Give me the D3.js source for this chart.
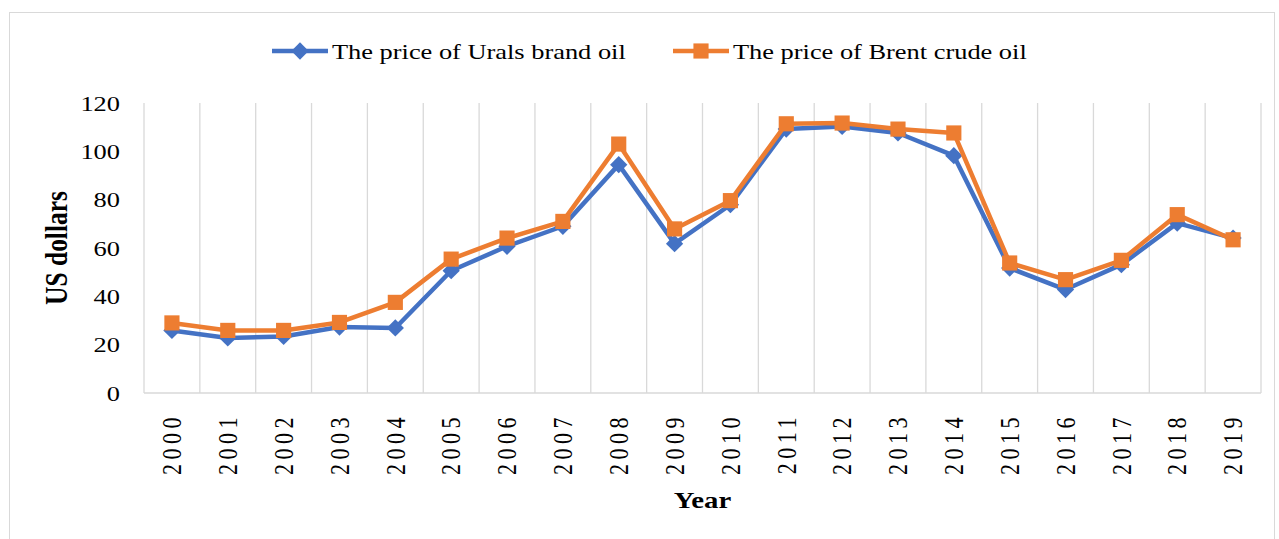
<!DOCTYPE html>
<html>
<head>
<meta charset="utf-8">
<script src="https://cdn.jsdelivr.net/npm/d3@7"></script>
<style>
  body { margin: 0; background: #fff; }
  svg { display: block; font-family: "Liberation Serif", "Times New Roman", serif; }
</style>
</head>
<body>
<script>
// data
const years = ["2000","2001","2002","2003","2004","2005","2006","2007","2008","2009",
  "2010","2011","2012","2013","2014","2015","2016","2017","2018","2019"];
const urals = [25.9, 22.8, 23.4, 27.3, 26.9, 50.6, 60.7, 69.0, 94.5, 61.8,
  77.9, 109.2, 110.3, 107.6, 98.2, 51.7, 42.8, 53.1, 70.3, 64.1];
const brent = [29.0, 25.9, 25.9, 29.2, 37.5, 55.4, 64.1, 71.0, 103.0, 67.9,
  79.6, 111.4, 111.7, 109.2, 107.6, 53.8, 46.9, 54.9, 73.8, 63.4];
const yTicks = [0, 20, 40, 60, 80, 100, 120];
const seriesNames = ["The price of Urals brand oil", "The price of Brent crude oil"];
// ----------

const w = 1279;
const h = 539;
const p = { t: 103, r: 18, b: 146, l: 144 };
const blue = "#4472C4";
const orange = "#ED7D31";
const gridCol = "#d9d9d9";
const sx = 1.2; // text is a bit wider than tall in the original
// ----------

const svg = d3.select("body").append("svg").attr("width", w).attr("height", h);

// outer chart border
svg.append("rect")
  .attr("x", 9.5).attr("y", 12.5)
  .attr("width", 1265).attr("height", 560)
  .attr("fill", "none").attr("stroke", gridCol).attr("stroke-width", 1);

// scales
const x = d3.scaleBand().domain(years).range([p.l, w - p.r]);
const y = d3.scaleLinear().domain([0, 120]).range([h - p.b, p.t]);
const cx = (d) => x(d) + x.bandwidth() / 2;

// vertical gridlines at category borders
const borders = years.map((d) => x(d)).concat([x.range()[1]]);
svg.append("g")
  .selectAll("line")
  .data(borders)
  .enter()
  .append("line")
  .attr("x1", (d) => d).attr("x2", (d) => d)
  .attr("y1", y(120)).attr("y2", y(0))
  .attr("stroke", gridCol).attr("stroke-width", 1.3);

// baseline
svg.append("line")
  .attr("x1", x.range()[0]).attr("x2", x.range()[1])
  .attr("y1", y(0)).attr("y2", y(0))
  .attr("stroke", gridCol).attr("stroke-width", 1.5);

// y axis labels
svg.append("g")
  .selectAll("text")
  .data(yTicks)
  .enter()
  .append("text")
  .text((d) => d)
  .attr("transform", (d) => `translate(120, ${y(d)}) scale(${sx}, 1)`)
  .attr("dy", "0.35em")
  .attr("text-anchor", "end")
  .attr("font-size", 22)
  .attr("fill", "#000");

// x axis labels (rotated)
svg.append("g")
  .selectAll("text")
  .data(years)
  .enter()
  .append("text")
  .text((d) => d)
  .attr("transform", (d) => `translate(${cx(d)}, ${y(0) + 20}) scale(${sx}, 1) rotate(-90)`)
  .attr("dy", "0.35em")
  .attr("text-anchor", "end")
  .attr("font-size", 22)
  .attr("letter-spacing", 4.5)
  .attr("fill", "#000");

// axis titles
svg.append("text")
  .text("Year")
  .attr("transform", `translate(${(x.range()[0] + x.range()[1]) / 2}, 508) scale(${sx}, 1)`)
  .attr("text-anchor", "middle")
  .attr("font-size", 24)
  .attr("font-weight", "bold");

svg.append("text")
  .text("US dollars")
  .attr("transform", `translate(67, ${y(60)}) scale(${sx}, 1) rotate(-90)`)
  .attr("text-anchor", "middle")
  .attr("font-size", 25.5)
  .attr("font-weight", "bold");
// ----------

// lines
const lineGen = (vals) => d3.line()
  .x((d, i) => cx(years[i]))
  .y((d) => y(d))(vals);

const diamond = d3.symbol().type(d3.symbolDiamond2).size(190);
const square = d3.symbol().type(d3.symbolSquare).size(230);

const drawSeries = (vals, col, sym) => {
  const g = svg.append("g");
  g.append("path")
    .attr("d", lineGen(vals))
    .attr("fill", "none")
    .attr("stroke", col)
    .attr("stroke-width", 4.5)
    .attr("stroke-linejoin", "round");
  g.selectAll("path.m")
    .data(vals)
    .enter()
    .append("path")
    .attr("class", "m")
    .attr("d", sym)
    .attr("transform", (d, i) => `translate(${cx(years[i])}, ${y(d)})`)
    .attr("fill", col);
};

drawSeries(urals, blue, diamond);
drawSeries(brent, orange, square);
// ----------

// legend
const legendItems = [
  { name: seriesNames[0], col: blue, sym: diamond, x: 272 },
  { name: seriesNames[1], col: orange, sym: square, x: 673 },
];
const legend = svg.append("g");
legendItems.forEach((it) => {
  const lg = legend.append("g").attr("transform", `translate(${it.x}, 51)`);
  lg.append("line")
    .attr("x1", 0).attr("x2", 56)
    .attr("stroke", it.col).attr("stroke-width", 4.5);
  lg.append("path").attr("d", it.sym).attr("transform", "translate(28, 0)").attr("fill", it.col);
  lg.append("text")
    .text(it.name)
    .attr("transform", `translate(60, 0) scale(${sx}, 1)`)
    .attr("dy", "0.35em")
    .attr("font-size", 22)
    .attr("fill", "#000");
});
</script>
</body>
</html>
